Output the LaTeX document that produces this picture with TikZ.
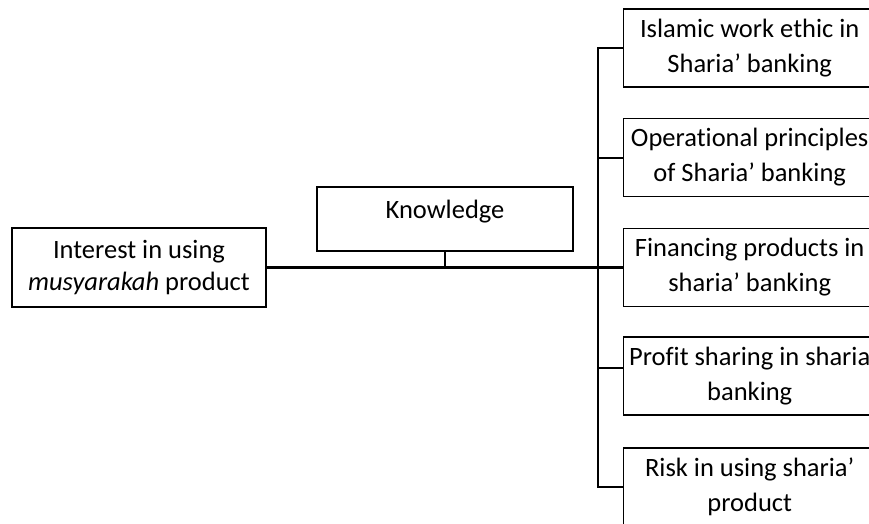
\documentclass[tikz,border=0pt]{standalone}
\usepackage{fontspec}
\setmainfont{Carlito}[Ligatures=NoCommon,RawFeature={-liga;-clig;-dlig}]
\usepackage{tikz}
\usetikzlibrary{positioning,calc}
\tikzset{
    every picture/.style={line cap=rect,line join=miter},
    topicbox/.style={draw=black,fill=white,line width=1.4pt,
      minimum width=252pt,minimum height=78pt,inner sep=2pt,
      anchor=west,align=center,font=\fontsize{26.5}{35}\selectfont},
    mainbox/.style={draw=black,fill=white,line width=1.4pt,
      minimum width=254pt,minimum height=79pt,inner sep=2pt,
      align=center,font=\fontsize{26.5}{32}\selectfont},
    knowbox/.style={draw=black,fill=white,line width=1.4pt,
      minimum width=256pt,minimum height=64pt,inner sep=2pt,
      text depth=19pt,align=center,font=\fontsize{26.5}{33}\selectfont},
    mainline/.style={draw=black,line width=2.8pt},
    branchline/.style={draw=black,line width=2pt},
    stubline/.style={draw=black,line width=1.3pt}
}

\begin{document}
\begin{tikzpicture}[x=1pt,y=-1pt]
  \useasboundingbox (0,0) rectangle (869,524);
  % left and middle boxes
  \node[mainbox] (interest) at (139,267.5) {Interest in using\\\textit{musyarakah} product};
  \node[knowbox] (know) at (445,219) {Knowledge};
  % topics on the right
  \node[topicbox] (ethic) at (623,48) {Islamic work ethic in\\Sharia’ banking};
  \node[topicbox] (principle) at (623,157.5) {Operational principles\\of Sharia’ banking};
  \node[topicbox] (finance) at (623,267.5) {Financing products in\\sharia’ banking};
  \node[topicbox] (profit) at (623,376) {Profit sharing in sharia\\banking};
  \node[topicbox] (risk) at (623,487) {Risk in using sharia’\\product};
  \coordinate (trunktop) at (598,48);
  \coordinate (trunkbot) at (598,487);
  \coordinate (stub) at (know.south |- interest.east);
  % connectors
  \draw[mainline] (interest.east) -- (finance.west);
  \draw[stubline] (know.south) -- (stub);
  \draw[branchline] (trunktop) -- (trunkbot);
  \draw[branchline] (trunktop) -- (ethic.west);
  \draw[branchline] (trunktop |- principle.west) -- (principle.west);
  \draw[branchline] ([yshift=8pt]trunktop |- profit.west) -- ([yshift=8pt]profit.west);
  \draw[branchline] (trunkbot) -- (risk.west);
\end{tikzpicture}
\end{document}
